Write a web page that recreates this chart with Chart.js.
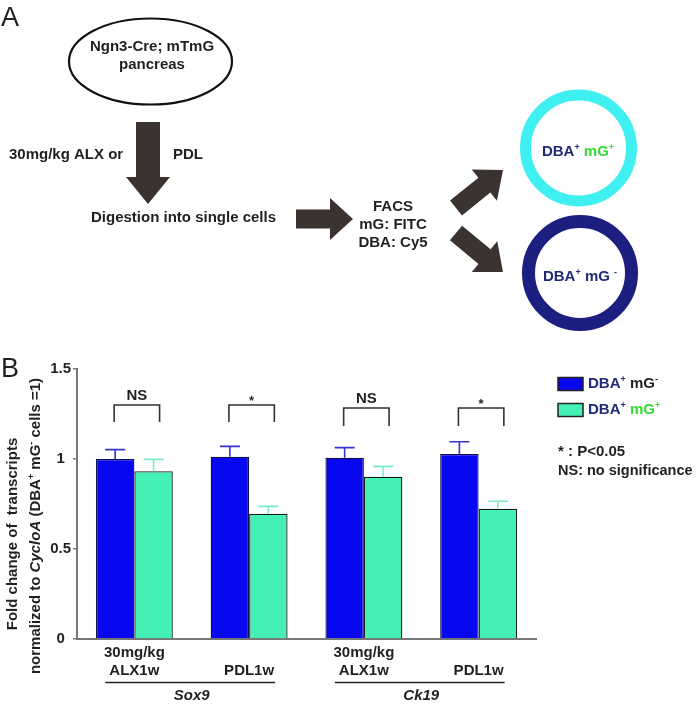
<!DOCTYPE html>
<html>
<head>
<meta charset="utf-8">
<script src="https://cdn.jsdelivr.net/npm/chart.js@4/dist/chart.umd.min.js"></script>
<style>
html,body{margin:0;padding:0;background:#fff;}
canvas{display:block;}
</style>
</head>
<body>
<canvas id="c" width="700" height="707" style="width:700px;height:707px"></canvas>
<script>
// ---- data ----
const categories = [['30mg/kg', 'ALX1w'], ['', 'PDL1w'], ['30mg/kg', 'ALX1w'], ['', 'PDL1w']];
const genes = ['Sox9', 'Ck19'];
const seriesNames = ['DBA+ mG-', 'DBA+ mG+'];
const mgNeg = [1.00, 1.013, 1.007, 1.028];
const mgNegErr = [0.052, 0.057, 0.056, 0.068];
const mgPos = [0.932, 0.696, 0.902, 0.724];
const mgPosErr = [0.066, 0.041, 0.057, 0.041];
const significance = ['NS', '*', 'NS', '*'];
const yTicks = [0, 0.5, 1, 1.5];

const FAM = '"Liberation Sans", Arial, sans-serif';
const TXT = '#231f20';
const NAVY = '#1f2a78';
const GREENTXT = '#33dd33';
const BLUE = '#0808f0';
const GREEN = '#45f0b4';
const ARROW = '#3a3330';

function fontOf(p, size) {
  const s = p.sup ? Math.round(size * 0.6) : size;
  return (p.i ? 'italic ' : '') + 'bold ' + s + 'px ' + FAM;
}
function rich(ctx, parts, x, y, align, size) {
  ctx.textBaseline = 'middle';
  ctx.textAlign = 'left';
  const widths = parts.map(p => { ctx.font = fontOf(p, size); return ctx.measureText(p.t).width; });
  const w = widths.reduce((a, b) => a + b, 0);
  let cx = align === 'center' ? x - w / 2 : (align === 'right' ? x - w : x);
  parts.forEach((p, k) => {
    ctx.font = fontOf(p, size);
    ctx.fillStyle = p.c || TXT;
    ctx.fillText(p.t, cx, y + (p.sup ? -size * 0.32 : 0));
    cx += widths[k];
  });
}
function arrow(ctx, x1, y1, x2, y2, shaftW, headW, headL) {
  const ang = Math.atan2(y2 - y1, x2 - x1);
  const len = Math.hypot(x2 - x1, y2 - y1);
  ctx.save();
  ctx.translate(x1, y1);
  ctx.rotate(ang);
  ctx.beginPath();
  ctx.moveTo(0, -shaftW / 2);
  ctx.lineTo(len - headL, -shaftW / 2);
  ctx.lineTo(len - headL, -headW / 2);
  ctx.lineTo(len, 0);
  ctx.lineTo(len - headL, headW / 2);
  ctx.lineTo(len - headL, shaftW / 2);
  ctx.lineTo(0, shaftW / 2);
  ctx.closePath();
  ctx.fillStyle = ARROW;
  ctx.fill();
  ctx.restore();
}

const decor = {
  id: 'decor',
  afterDatasetsDraw(chart) {
    const ctx = chart.ctx;
    const ys = chart.scales.y, xs = chart.scales.x;
    const m0 = chart.getDatasetMeta(0), m1 = chart.getDatasetMeta(1);
    const errs = [mgNegErr, mgPosErr];
    const vals = [mgNeg, mgPos];
    const errCol = ['#3434d0', '#78ecc8'];
    ctx.save();
    // error bars
    [m0, m1].forEach((m, di) => {
      m.data.forEach((bar, i) => {
        const yt = ys.getPixelForValue(vals[di][i] + errs[di][i]);
        ctx.strokeStyle = errCol[di];
        ctx.lineWidth = 1.6;
        ctx.beginPath();
        ctx.moveTo(bar.x, bar.y);
        ctx.lineTo(bar.x, yt);
        ctx.moveTo(bar.x - 10, yt);
        ctx.lineTo(bar.x + 10, yt);
        ctx.stroke();
      });
    });
    // significance brackets
    significance.forEach((s, i) => {
      const top = ys.getPixelForValue(i < 2 ? 1.30 : 1.283);
      const bot = ys.getPixelForValue(i < 2 ? 1.205 : 1.183);
      const xl = m0.data[i].x - 1;
      const xr = m1.data[i].x + 6;
      ctx.strokeStyle = '#333';
      ctx.lineWidth = 1.6;
      ctx.beginPath();
      ctx.moveTo(xl, bot); ctx.lineTo(xl, top); ctx.lineTo(xr, top); ctx.lineTo(xr, bot);
      ctx.stroke();
      ctx.fillStyle = TXT;
      ctx.textAlign = 'center';
      ctx.textBaseline = 'middle';
      if (s === '*') {
        ctx.font = 'bold 13px ' + FAM;
        ctx.fillText(s, (xl + xr) / 2, top - 4);
      } else {
        ctx.font = 'bold 15px ' + FAM;
        ctx.fillText(s, (xl + xr) / 2, top - 9);
      }
    });
    // gene group labels
    genes.forEach((g, gi) => {
      const c0 = xs.getPixelForValue(gi * 2), c1 = xs.getPixelForValue(gi * 2 + 1);
      ctx.strokeStyle = '#222';
      ctx.lineWidth = 1.5;
      ctx.beginPath();
      ctx.moveTo(c0 - 29, 682.5); ctx.lineTo(c1 + 26, 682.5);
      ctx.stroke();
      ctx.fillStyle = TXT;
      ctx.font = 'italic bold 15px ' + FAM;
      ctx.textAlign = 'center';
      ctx.textBaseline = 'middle';
      ctx.fillText(g, (c0 + c1) / 2, 696);
    });
    // y axis title
    ctx.save();
    ctx.translate(13, 534);
    ctx.rotate(-Math.PI / 2);
    rich(ctx, [{t: 'Fold change of  transcripts'}], 0, 0, 'center', 15);
    ctx.restore();
    ctx.save();
    ctx.translate(36, 526);
    ctx.rotate(-Math.PI / 2);
    rich(ctx, [{t: 'normalized to '}, {t: 'CycloA', i: true}, {t: ' (DBA'}, {t: '+', sup: true},
      {t: ' mG'}, {t: '-', sup: true}, {t: ' cells =1)'}], 0, 0, 'center', 15);
    ctx.restore();
    // legend
    const ds = chart.data.datasets;
    [384, 410].forEach((y, k) => {
      ctx.fillStyle = ds[k].backgroundColor;
      ctx.fillRect(558, y - 6.5, 25, 13);
      ctx.strokeStyle = '#222';
      ctx.lineWidth = 1.5;
      ctx.strokeRect(558, y - 6.5, 25, 13);
      const sgn = seriesNames[k].slice(-1);
      rich(ctx, [{t: 'DBA', c: NAVY}, {t: '+', sup: true, c: NAVY}, {t: ' mG', c: k ? GREENTXT : TXT},
        {t: sgn, sup: true, c: k ? GREENTXT : TXT}], 588, y, 'left', 15);
    });
    rich(ctx, [{t: '* : P<0.05'}], 558, 452, 'left', 15);
    rich(ctx, [{t: 'NS: no significance'}], 558, 471, 'left', 14.5);
    // panel labels
    ctx.fillStyle = TXT;
    ctx.font = '27px ' + FAM;
    ctx.textAlign = 'left';
    ctx.textBaseline = 'alphabetic';
    ctx.fillText('A', 1, 26);
    ctx.fillText('B', 1, 377);
    // ---- panel A flow diagram ----
    ctx.strokeStyle = '#111';
    ctx.lineWidth = 2.2;
    ctx.beginPath();
    ctx.ellipse(150.5, 61.5, 81.5, 43, 0, 0, Math.PI * 2);
    ctx.stroke();
    rich(ctx, [{t: 'Ngn3-Cre; mTmG'}], 152, 47, 'center', 15);
    rich(ctx, [{t: 'pancreas'}], 152, 65, 'center', 15);
    arrow(ctx, 148, 122, 148, 204, 24, 44, 27);
    rich(ctx, [{t: '30mg/kg ALX or'}], 9, 155, 'left', 15);
    rich(ctx, [{t: 'PDL'}], 173, 155, 'left', 15);
    rich(ctx, [{t: 'Digestion into single cells'}], 91, 218, 'left', 15);
    arrow(ctx, 296, 219, 353, 219, 19, 42, 23);
    rich(ctx, [{t: 'FACS'}], 393, 207, 'center', 15);
    rich(ctx, [{t: 'mG: FITC'}], 393, 225, 'center', 15);
    rich(ctx, [{t: 'DBA: Cy5'}], 393, 243, 'center', 15);
    arrow(ctx, 456, 208, 503, 170, 19, 40, 24);
    arrow(ctx, 456, 233, 503, 272, 19, 40, 24);
    ctx.lineWidth = 11;
    ctx.strokeStyle = '#40f0f0';
    ctx.beginPath(); ctx.arc(578.5, 148, 53, 0, Math.PI * 2); ctx.stroke();
    ctx.lineWidth = 13;
    ctx.strokeStyle = '#1c1f80';
    ctx.beginPath(); ctx.arc(580, 273, 51.5, 0, Math.PI * 2); ctx.stroke();
    rich(ctx, [{t: 'DBA', c: NAVY}, {t: '+', sup: true, c: NAVY}, {t: ' mG', c: GREENTXT}, {t: '+', sup: true, c: GREENTXT}], 578, 152, 'center', 15);
    rich(ctx, [{t: 'DBA', c: NAVY}, {t: '+', sup: true, c: NAVY}, {t: ' mG ', c: NAVY}, {t: '-', sup: true, c: NAVY}], 580, 277, 'center', 15);
    ctx.restore();
  }
};

new Chart(document.getElementById('c'), {
  type: 'bar',
  data: {
    labels: categories,
    datasets: [
      {label: seriesNames[0], data: mgNeg, backgroundColor: BLUE, borderColor: '#10104a', borderWidth: 1.3},
      {label: seriesNames[1], data: mgPos, backgroundColor: GREEN, borderColor: '#1a1a1a', borderWidth: 1.3}
    ]
  },
  options: {
    responsive: false,
    animation: false,
    devicePixelRatio: 1,
    categoryPercentage: 0.67,
    barPercentage: 1.0,
    layout: {padding: {top: 369, right: 164, bottom: 18, left: 0}},
    plugins: {legend: {display: false}, tooltip: {enabled: false}},
    scales: {
      x: {
        grid: {display: true, drawOnChartArea: false, drawTicks: false},
        border: {display: true, color: '#777', width: 2},
        ticks: {font: {family: FAM, size: 15, weight: 'bold'}, color: TXT, padding: 5, maxRotation: 0, autoSkip: false},
        afterFit(s) { s.height = 50; }
      },
      y: {
        min: 0, max: 1.5,
        afterBuildTicks(s) { s.ticks = yTicks.map(v => ({value: v})); },
        ticks: {font: {family: FAM, size: 15, weight: 'bold'}, color: TXT, padding: 2, crossAlign: 'center',
          callback: v => String(v)},
        grid: {drawOnChartArea: false, drawTicks: true, tickLength: 4, color: '#777', lineWidth: 1.5},
        border: {display: true, color: '#777', width: 2},
        afterFit(s) { s.width = 77; }
      }
    }
  },
  plugins: [decor]
});
</script>
</body>
</html>
